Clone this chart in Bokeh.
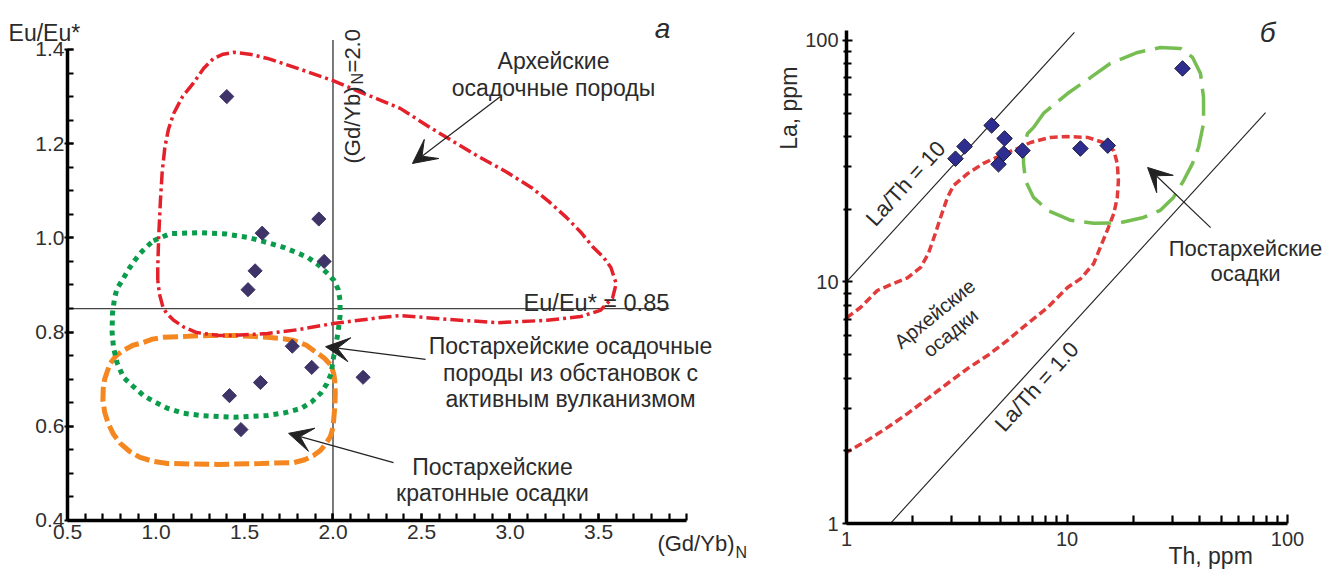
import math
from bokeh.plotting import figure
from bokeh.models import Range1d, FixedTicker, Label, Arrow, VeeHead, PrintfTickFormatter
from bokeh.layouts import row
from bokeh.embed import file_html
from bokeh.resources import INLINE

FONT = "Liberation Sans"
TXT = "#2b2b2b"

# ---------------- panel "а": Eu/Eu* vs (Gd/Yb)N ----------------
gdyb = [1.40, 1.60, 1.92, 1.95, 1.56, 1.52, 1.77, 1.88, 2.17, 1.59, 1.415, 1.48]
eueu = [1.30, 1.01, 1.04, 0.95, 0.93, 0.89, 0.77, 0.725, 0.704, 0.693, 0.665, 0.593]

# Archean sedimentary rocks field (red dash-dot)
arch_gd = [1.01, 1.01, 1.015, 1.025, 1.035, 1.05, 1.07, 1.10, 1.15, 1.21, 1.27, 1.325, 1.38, 1.44,
           1.53, 1.63, 1.80, 2.0, 2.15, 2.27, 2.38, 2.55, 2.70, 2.83, 2.98, 3.12, 3.22, 3.32, 3.40,
           3.47, 3.53, 3.57, 3.60, 3.58, 3.51, 3.40, 3.21, 2.93, 2.65, 2.38, 2.27, 2.0, 1.80, 1.63,
           1.45, 1.35, 1.23, 1.16, 1.10, 1.06, 1.04, 1.02, 1.01]
arch_eu = [0.91, 0.937, 1.0, 1.079, 1.14, 1.192, 1.23, 1.264, 1.30, 1.328, 1.36, 1.381, 1.39, 1.394,
           1.39, 1.381, 1.36, 1.334, 1.31, 1.292, 1.275, 1.234, 1.20, 1.171, 1.14, 1.107, 1.077, 1.043,
           1.012, 0.98, 0.958, 0.937, 0.903, 0.873, 0.846, 0.833, 0.825, 0.82, 0.827, 0.835, 0.831,
           0.818, 0.805, 0.797, 0.793, 0.793, 0.799, 0.81, 0.825, 0.84, 0.852, 0.88, 0.91]

# post-Archean, active volcanism field (green dotted)
volc_gd = [0.986, 1.08, 1.25, 1.40, 1.52, 1.63, 1.72, 1.80, 1.86, 1.92, 1.97, 2.005, 2.03, 2.04, 2.04,
           2.03, 2.015, 2.0, 1.99, 1.965, 1.93, 1.88, 1.82, 1.72, 1.63, 1.44, 1.25, 1.15, 1.065, 0.99,
           0.93, 0.87, 0.816, 0.78, 0.76, 0.752, 0.754, 0.765, 0.78, 0.81, 0.84, 0.875, 0.91, 0.95, 0.986]
volc_eu = [0.994, 1.009, 1.011, 1.008, 1.001, 0.99, 0.98, 0.968, 0.958, 0.942, 0.924, 0.91, 0.89, 0.867,
           0.835, 0.803, 0.77, 0.74, 0.712, 0.69, 0.67, 0.652, 0.638, 0.628, 0.623, 0.619, 0.623, 0.628,
           0.638, 0.652, 0.665, 0.685, 0.704, 0.735, 0.767, 0.80, 0.839, 0.87, 0.893, 0.91, 0.93, 0.95,
           0.967, 0.982, 0.994]

# post-Archean cratonic field (orange dashed)
crat_gd = [1.04, 1.18, 1.30, 1.44, 1.63, 1.72, 1.78, 1.85, 1.89, 1.95, 1.99, 2.005, 2.01, 2.013, 2.01,
           2.0, 1.985, 1.96, 1.93, 1.89, 1.84, 1.78, 1.59, 1.35, 1.20, 1.065, 0.98, 0.91, 0.85, 0.80,
           0.76, 0.73, 0.71, 0.70, 0.702, 0.71, 0.74, 0.775, 0.816, 0.87, 0.93, 0.98, 1.04]
crat_eu = [0.789, 0.791, 0.793, 0.793, 0.789, 0.786, 0.782, 0.772, 0.761, 0.745, 0.729, 0.71, 0.697,
           0.67, 0.64, 0.597, 0.578, 0.563, 0.549, 0.538, 0.529, 0.523, 0.521, 0.519, 0.52, 0.521, 0.526,
           0.534, 0.547, 0.563, 0.583, 0.606, 0.63, 0.655, 0.68, 0.70, 0.733, 0.75, 0.761, 0.772, 0.778,
           0.785, 0.789]

gd_ticks = [0.5, 1.0, 1.5, 2.0, 2.5, 3.0, 3.5]
gd_minor = [round(0.5 + 0.1 * i, 1) for i in range(36)]
eu_ticks = [0.4, 0.6, 0.8, 1.0, 1.2, 1.4]
eu_minor = [round(0.4 + 0.05 * i, 2) for i in range(21)]

gd_limit = [2.0, 2.0]
gd_limit_eu = [0.4, 1.42]
eu_limit_gd = [0.5, 3.9]
eu_limit = [0.85, 0.85]

# ---------------- panel "б": La vs Th ----------------
th = [3.12, 3.43, 4.55, 5.21, 5.16, 4.89, 6.28, 33.4, 11.5, 15.3]
la = [32.4, 36.4, 44.5, 39.3, 34.0, 30.7, 35.0, 76.6, 35.7, 36.7]

# Archean sediments field (red dotted, open at the axis)
arch_th = [1.0, 1.157, 1.38, 1.63, 1.89, 2.17, 2.35, 2.53, 2.67, 2.87, 3.06, 3.54, 4.18, 4.99, 5.96,
           6.83, 8.41, 10.05, 12.4, 14.6, 16.3, 16.9, 17.1, 16.9, 16.3, 15.4, 14.6, 13.2, 11.5, 10.05,
           8.16, 6.62, 5.37, 4.36, 3.54, 2.87, 2.33, 1.89, 1.535, 1.245, 1.0]
arch_la = [7.1, 7.84, 9.22, 9.86, 10.4, 11.5, 13.1, 15.9, 18.5, 22.4, 25.1, 28.1, 31.0, 33.4, 35.7,
           37.8, 39.7, 40.0, 39.7, 37.8, 35.0, 31.0, 26.3, 22.4, 19.2, 16.8, 14.9, 11.9, 10.3, 9.49,
           7.84, 6.73, 5.73, 4.96, 4.38, 3.80, 3.29, 2.85, 2.50, 2.21, 1.97]

# post-Archean sediments field (green long dash)
post_th = [7.05, 7.82, 10.05, 12.8, 15.7, 20.9, 26.5, 32.7, 37.1, 40.3, 41.6, 41.6, 39.5, 37.1, 33.8,
           30.4, 26.5, 22.2, 17.5, 13.2, 10.4, 8.16, 7.05, 6.48, 6.35, 6.35, 6.62, 7.05]
post_la = [43.6, 49.9, 60.3, 70.3, 80.3, 89.2, 93.5, 92.7, 85.1, 73.0, 58.1, 45.3, 36.1, 31.0, 26.3,
           22.4, 19.8, 18.5, 17.6, 17.5, 18.0, 19.8, 22.4, 26.3, 31.0, 36.1, 41.2, 43.6]

log_ticks = [1, 10, 100]
log_minor = [2, 3, 4, 5, 6, 7, 8, 9, 20, 30, 40, 50, 60, 70, 80, 90]

ratio10_th = [1.0, 10.8]
ratio10_la = [10.0, 108.0]
ratio1_th = [1.58, 79.5]
ratio1_la = [1.0, 50.3]


def label(p, x, y, text, size="23px", align="center", baseline="alphabetic", angle=0.0, style="normal"):
    p.add_layout(Label(x=x, y=y, text=text, text_font=FONT, text_font_size=size,
                       text_align=align, text_baseline=baseline, angle=angle,
                       text_color=TXT, text_font_style=style))


def arrow(p, x0, y0, x1, y1):
    p.add_layout(Arrow(end=VeeHead(size=24, fill_color="#222222", line_color="#222222", line_width=1),
                       x_start=x0, y_start=y0, x_end=x1, y_end=y1,
                       line_color="#222222", line_width=1.2))


def style_axes(p):
    p.grid.visible = False
    p.outline_line_color = None
    p.background_fill_color = "white"
    p.border_fill_color = "white"
    for ax in (p.xaxis[0], p.yaxis[0]):
        ax.axis_line_width = 3.5
        ax.axis_line_color = "black"
        ax.major_tick_line_width = 2.2
        ax.minor_tick_line_width = 2.2
        ax.major_tick_line_color = "black"
        ax.minor_tick_line_color = "black"
        ax.major_label_text_font = FONT
        ax.major_label_text_color = "#2f2f2f"


# ======== panel а ========  (frame covers the whole canvas, axes at fixed data locations)
p1 = figure(width=768, height=570, x_range=Range1d(0.1215, 4.4605), y_range=Range1d(0.2938, 1.504),
            output_backend="svg", toolbar_location=None,
            min_border_left=0, min_border_right=0, min_border_top=0, min_border_bottom=0)
style_axes(p1)
p1.xaxis.fixed_location = 0.4
p1.yaxis.fixed_location = 0.5
p1.xaxis.bounds = (0.5, 4.0)
p1.yaxis.bounds = (0.4, 1.4)
p1.xaxis.ticker = FixedTicker(ticks=gd_ticks, minor_ticks=gd_minor)
p1.yaxis.ticker = FixedTicker(ticks=eu_ticks, minor_ticks=eu_minor)
p1.xaxis.formatter = PrintfTickFormatter(format="%.1f")
p1.yaxis.formatter = PrintfTickFormatter(format="%.1f")
p1.xaxis.major_label_text_font_size = "21px"
p1.yaxis.major_label_text_font_size = "21px"
p1.xaxis.major_tick_in = 7
p1.xaxis.major_tick_out = 0
p1.xaxis.minor_tick_in = 7
p1.xaxis.minor_tick_out = 0
p1.xaxis.major_label_standoff = 5
p1.yaxis.major_tick_in = 6
p1.yaxis.major_tick_out = 3
p1.yaxis.minor_tick_in = 6
p1.yaxis.minor_tick_out = 0
p1.yaxis.major_label_standoff = 0

p1.line(gd_limit, gd_limit_eu, line_color="#222222", line_width=1.2)
p1.line(eu_limit_gd, eu_limit, line_color="#444444", line_width=1.2)

p1.line(crat_gd, crat_eu, line_color="#f4871f", line_width=5, line_dash="15 5")
p1.line(volc_gd, volc_eu, line_color="#0a9b4b", line_width=5, line_dash="5 5")
p1.line(arch_gd, arch_eu, line_color="#e4212b", line_width=3.5, line_dash="13 4 3 4")

p1.scatter(gdyb, eueu, marker="square", size=10, angle=math.pi / 4,
           fill_color="#3f3467", line_color="#3f3467")

label(p1, 0.167, 1.436, "Eu/Eu*", size="23px", align="left")
label(p1, 3.862, 1.4446, "а", size="28px", style="italic")
label(p1, 3.833, 0.351, "(Gd/Yb)", size="22px", align="left")
label(p1, 4.274, 0.332, "N", size="16px", align="left")
label(p1, 2.110, 1.158, "(Gd/Yb)", size="22px", align="left", angle=math.pi / 2)
label(p1, 2.138, 1.3257, "N", size="16px", align="left", angle=math.pi / 2)
label(p1, 2.110, 1.3512, "=2.0", size="22px", align="left", angle=math.pi / 2)
label(p1, 3.90, 0.861, "Eu/Eu* = 0.85", size="23.5px", align="right")

label(p1, 3.246, 1.3766, "Архейские")
label(p1, 3.246, 1.319, "осадочные породы")
label(p1, 3.342, 0.7715, "Постархейские осадочные")
label(p1, 3.342, 0.7128, "породы из обстановок с")
label(p1, 3.342, 0.6584, "активным вулканизмом")
label(p1, 2.901, 0.5132, "Постархейские")
label(p1, 2.901, 0.4573, "кратонные осадки")

arrow(p1, 2.946, 1.300, 2.449, 1.158)
arrow(p1, 2.523, 0.742, 1.958, 0.769)
arrow(p1, 2.342, 0.523, 1.749, 0.585)

# ======== panel б ========
p2 = figure(width=561, height=570, x_axis_type="log", y_axis_type="log",
            x_range=Range1d(0.4428, 155.0), y_range=Range1d(0.6389, 146.4),
            output_backend="svg", toolbar_location=None,
            min_border_left=0, min_border_right=0, min_border_top=0, min_border_bottom=0)
style_axes(p2)
p2.xaxis.fixed_location = 1
p2.yaxis.fixed_location = 1
p2.xaxis.bounds = (1, 100)
p2.yaxis.bounds = (1, 110)
p2.xaxis.ticker = FixedTicker(ticks=log_ticks, minor_ticks=log_minor)
p2.yaxis.ticker = FixedTicker(ticks=log_ticks, minor_ticks=log_minor)
p2.xaxis.formatter = PrintfTickFormatter(format="%d")
p2.yaxis.formatter = PrintfTickFormatter(format="%d")
p2.xaxis.major_label_text_font_size = "20px"
p2.yaxis.major_label_text_font_size = "20px"
p2.xaxis.major_tick_in = 9
p2.xaxis.major_tick_out = 0
p2.xaxis.minor_tick_in = 8
p2.xaxis.minor_tick_out = 0
p2.xaxis.major_label_standoff = 8
p2.yaxis.major_tick_in = 6
p2.yaxis.major_tick_out = 4
p2.yaxis.minor_tick_in = 5
p2.yaxis.minor_tick_out = 3
p2.yaxis.major_label_standoff = 4

p2.line(ratio10_th, ratio10_la, line_color="#222222", line_width=1.1)
p2.line(ratio1_th, ratio1_la, line_color="#222222", line_width=1.1)
p2.line(post_th, post_la, line_color="#76bd52", line_width=3.5, line_dash="27 10")
p2.line(arch_th, arch_la, line_color="#e23b3b", line_width=3.5, line_dash="8 4")

p2.scatter(th, la, marker="square", size=11, angle=math.pi / 4,
           fill_color="#2e2e91", line_color="#1a1a3a", line_width=1)

label(p2, 0.546, 52.4, "La, ppm", size="23px", baseline="middle", angle=math.pi / 2)
label(p2, 44.8, 0.735, "Th, ppm", size="23px")
label(p2, 81.2, 108.0, "б", size="28px", style="italic")
ang = math.atan2(241.5, 220.5)
label(p2, 1.852, 25.6, "La/Th = 10", size="22px", baseline="middle", angle=ang)
label(p2, 7.28, 3.69, "La/Th = 1.0", size="22px", baseline="middle", angle=ang)
label(p2, 2.51, 7.4, "Архейские", size="20px", baseline="middle", angle=math.radians(39))
label(p2, 2.96, 6.17, "осадки", size="20px", baseline="middle", angle=math.radians(39))
label(p2, 64.5, 13.8, "Постархейские", size="22px")
label(p2, 64.5, 10.8, "осадки", size="22px")
arrow(p2, 44.8, 16.8, 23.2, 29.8)

layout = row(p1, p2)
open("out.html", "w").write(file_html(layout, INLINE))
